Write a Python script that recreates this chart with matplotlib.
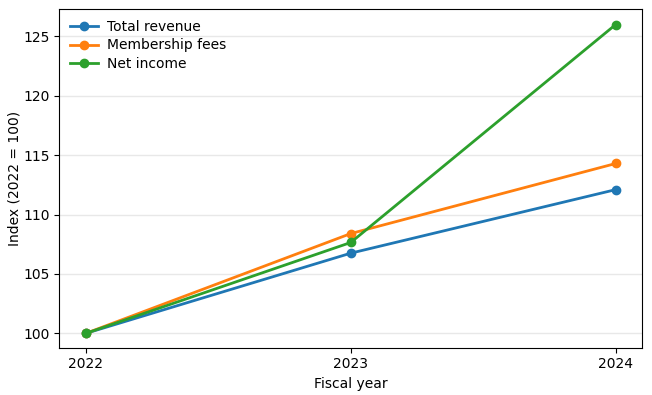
import matplotlib
matplotlib.use("Agg")
import matplotlib.pyplot as plt

years = ["2022", "2023", "2024"]
total_revenue = [100.0, 106.75, 112.1]
membership_fees = [100.0, 108.4, 114.3]
net_income = [100.0, 107.65, 126.0]

fig, ax = plt.subplots(figsize=(6.52, 3.95), dpi=100)
x = range(len(years))
ax.plot(x, total_revenue, "o-", color="#1f77b4", lw=2, ms=6, label="Total revenue")
ax.plot(x, membership_fees, "o-", color="#ff7f0e", lw=2, ms=6, label="Membership fees")
ax.plot(x, net_income, "o-", color="#2ca02c", lw=2, ms=6, label="Net income")

ax.set_xticks(list(x))
ax.set_xticklabels(years)
ax.set_xlim(-0.1, 2.1)
ax.set_ylim(98.8, 127.3)
ax.set_yticks([100, 105, 110, 115, 120, 125])
ax.yaxis.grid(True, color="#e8e8e8", lw=1)
ax.set_axisbelow(True)
ax.set_xlabel("Fiscal year")
ax.set_ylabel("Index (2022 = 100)", labelpad=1.5)
ax.legend(loc="upper left", frameon=False, labelspacing=0.3,
          handletextpad=0.6, borderaxespad=0.4)

fig.subplots_adjust(left=0.091, right=0.985, top=0.977, bottom=0.12)
fig.savefig("out.png", dpi=100)
